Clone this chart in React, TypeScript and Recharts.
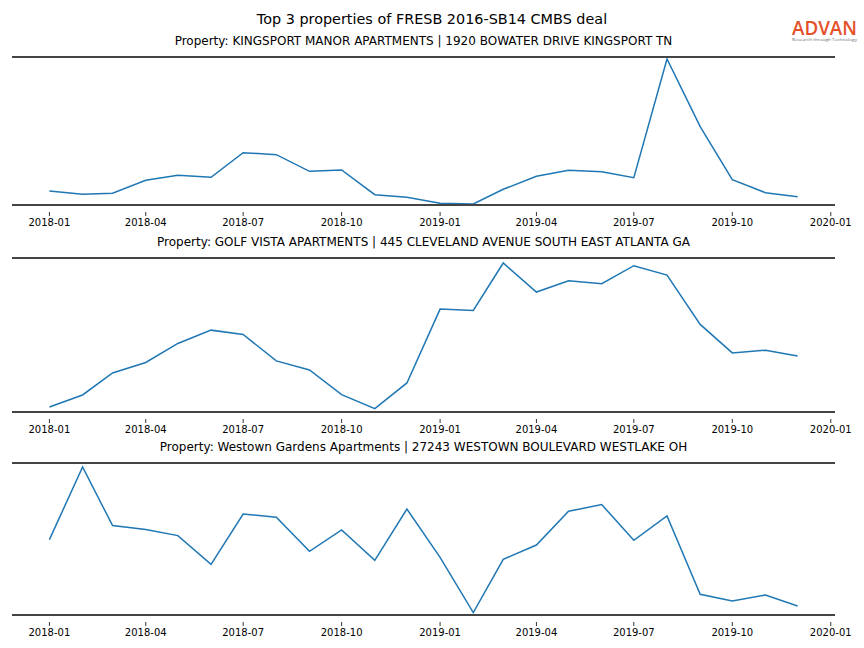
import React from "react";
import { LineChart, Line, XAxis, YAxis, ReferenceLine } from "recharts";

const months = [
  "2018-01", "2018-02", "2018-03", "2018-04", "2018-05", "2018-06",
  "2018-07", "2018-08", "2018-09", "2018-10", "2018-11", "2018-12",
  "2019-01", "2019-02", "2019-03", "2019-04", "2019-05", "2019-06",
  "2019-07", "2019-08", "2019-09", "2019-10", "2019-11", "2019-12",
];

const tickLabels = [
  "2018-01", "2018-04", "2018-07", "2018-10", "2019-01",
  "2019-04", "2019-07", "2019-10", "2020-01",
];

// values (no y scale is shown, so units are relative)
const kingsport = [
  14, 10.7, 11.7, 24.7, 29.7, 27.7, 52.3, 50.3, 33.7, 35, 10.3, 7.7,
  1.7, 1, 15.7, 28.7, 34.7, 33.3, 27.3, 146, 78.3, 25.3, 12.3, 8.3,
];
const golfVista = [
  5, 17, 39, 49.4, 68.4, 81.7, 77.4, 51, 42, 17.4, 3.4, 29,
  102.7, 101.4, 148.7, 119.7, 131, 128, 146, 136.7, 87.4, 59, 61.7, 56,
];
const westown = [
  75.4, 148, 89.4, 85.4, 79.4, 50.7, 101, 97.7, 63.7, 85, 54.7, 106,
  57.7, 2.4, 55.7, 70, 103.7, 110.4, 74.7, 99, 20.7, 14, 20, 9,
];

const panelTitles = [
  "Property: KINGSPORT MANOR APARTMENTS | 1920 BOWATER DRIVE KINGSPORT TN",
  "Property: GOLF VISTA APARTMENTS | 445 CLEVELAND AVENUE SOUTH EAST ATLANTA GA",
  "Property: Westown Gardens Apartments | 27243 WESTOWN BOULEVARD WESTLAKE OH",
];

const yMax = [148, 153.7, 152];

const DAY = 86400000;
const base = Date.UTC(2018, 0, 1);
const toDays = (m: string) => {
  const [y, mo] = m.split("-").map(Number);
  return (Date.UTC(y, mo - 1, 1) - base) / DAY;
};
const tickDays = tickLabels.map(toDays);
const labelFor = (d: number) => tickLabels[tickDays.indexOf(d)] ?? "";

const span = toDays(months[months.length - 1]);
const xDomain = [-span * 0.05, span * 1.05];

const font = "'DejaVu Sans', sans-serif";

// matplotlib-style tick: small mark a few px under the spine, label below it
function DateTick(props: any) {
  const { x, y, payload } = props;
  return (
    <g>
      <line x1={x} x2={x} y1={y + 7} y2={y + 11} stroke="#000" strokeWidth={0.8} />
      <text x={x} y={y + 21} textAnchor="middle" fontSize={10} fontFamily={font} fill="#000">
        {labelFor(payload.value)}
      </text>
    </g>
  );
}

type PanelProps = { values: number[]; title: string; top: number; height: number; max: number };

function Panel({ values, title, top, height, max }: PanelProps) {
  const data = months.map((m, i) => ({ d: toDays(m), v: values[i] }));
  const mt = 6;
  return (
    <>
      <div
        style={{
          position: "absolute",
          left: 12,
          width: 823,
          top: top - 23,
          textAlign: "center",
          fontSize: 12,
          fontFamily: font,
          color: "#000",
        }}
      >
        {title}
      </div>
      <div style={{ position: "absolute", left: 0, top: top - mt }}>
        <LineChart
          width={864}
          height={height + mt + 30}
          data={data}
          margin={{ top: mt, right: 29, bottom: 0, left: 12 }}
        >
          <XAxis
            dataKey="d"
            type="number"
            domain={xDomain}
            ticks={tickDays}
            allowDataOverflow
            interval={0}
            height={30}
            axisLine={{ stroke: "#444", strokeWidth: 2 }}
            tickLine={false}
            tickSize={0}
            tickMargin={0}
            tick={<DateTick />}
          />
          <YAxis hide domain={[0, max]} allowDataOverflow />
          <ReferenceLine y={max} stroke="#444" strokeWidth={2} />
          <Line
            type="linear"
            dataKey="v"
            stroke="#1f77b4"
            strokeWidth={1.5}
            dot={false}
            isAnimationActive={false}
          />
        </LineChart>
      </div>
    </>
  );
}

export default function App() {
  const series = [kingsport, golfVista, westown];
  const tops = [57, 258, 463];
  const heights = [148, 154, 152];
  return (
    <div
      style={{
        position: "absolute",
        left: 0,
        top: 0,
        width: 864,
        height: 648,
        background: "#fff",
        fontFamily: font,
      }}
    >
      <div
        style={{
          position: "absolute",
          left: 0,
          width: 864,
          top: 11,
          textAlign: "center",
          fontSize: 14.4,
          color: "#000",
        }}
      >
        Top 3 properties of FRESB 2016-SB14 CMBS deal
      </div>
      <svg style={{ position: "absolute", left: 789, top: 16 }} width={72} height={28}>
        <text
          x={3}
          y={19}
          fontSize={19}
          fontWeight={600}
          fontFamily="'Open Sans', sans-serif"
          fill="#e4502a"
          textLength={65}
          lengthAdjust="spacingAndGlyphs"
        >
          ADVAN
        </text>
        <text
          x={3}
          y={25}
          fontSize={4}
          fontFamily="'Open Sans', sans-serif"
          fill="#666"
          textLength={65}
          lengthAdjust="spacingAndGlyphs"
        >
          Research through Technology
        </text>
      </svg>
      {series.map((s, i) => (
        <Panel key={i} values={s} title={panelTitles[i]} top={tops[i]} height={heights[i]} max={yMax[i]} />
      ))}
    </div>
  );
}
